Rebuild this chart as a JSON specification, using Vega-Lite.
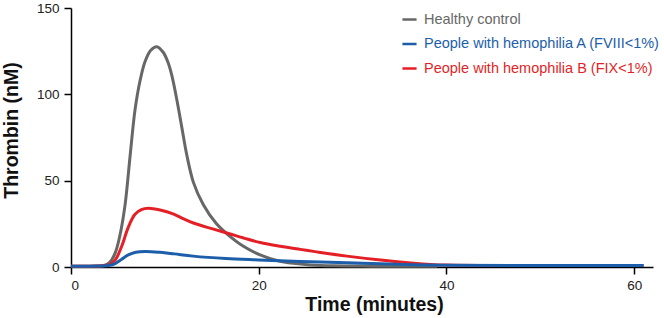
{
  "$schema": "https://vega.github.io/schema/vega-lite/v6.json",
  "autosize": {"type": "none"},
  "width": 582,
  "height": 259,
  "padding": {"left": 71, "top": 8, "right": 11, "bottom": 51},
  "background": "white",
  "config": {
    "view": {"stroke": null},
    "font": "Liberation Sans",
    "axis": {"grid": false, "domainColor": "#000000", "domainWidth": 1.5, "tickColor": "#000000", "tickWidth": 1.5, "labelColor": "#222222", "titleColor": "#111111", "labelFontSize": 13.5, "titleFontSize": 19.5, "titleFontWeight": "bold", "labelFont": "Liberation Sans", "titleFont": "Liberation Sans"},
    "legend": {"labelFont": "Liberation Sans"}
  },
  "data": {
    "values": [
      {"t": 0, "v": 0.5, "s": "Healthy control"},
      {"t": 2, "v": 0.5, "s": "Healthy control"},
      {"t": 3, "v": 0.6, "s": "Healthy control"},
      {"t": 3.6, "v": 1, "s": "Healthy control"},
      {"t": 4.1, "v": 2.5, "s": "Healthy control"},
      {"t": 4.7, "v": 8, "s": "Healthy control"},
      {"t": 5.2, "v": 18, "s": "Healthy control"},
      {"t": 5.76, "v": 36, "s": "Healthy control"},
      {"t": 6.29, "v": 64, "s": "Healthy control"},
      {"t": 6.82, "v": 91, "s": "Healthy control"},
      {"t": 7.36, "v": 108, "s": "Healthy control"},
      {"t": 7.89, "v": 119, "s": "Healthy control"},
      {"t": 8.5, "v": 125.5, "s": "Healthy control"},
      {"t": 9.14, "v": 127.6, "s": "Healthy control"},
      {"t": 9.8, "v": 124.5, "s": "Healthy control"},
      {"t": 10.3, "v": 119, "s": "Healthy control"},
      {"t": 10.74, "v": 111, "s": "Healthy control"},
      {"t": 11.27, "v": 97, "s": "Healthy control"},
      {"t": 11.8, "v": 81, "s": "Healthy control"},
      {"t": 12.33, "v": 65, "s": "Healthy control"},
      {"t": 13.04, "v": 49, "s": "Healthy control"},
      {"t": 14.1, "v": 36, "s": "Healthy control"},
      {"t": 15.5, "v": 25, "s": "Healthy control"},
      {"t": 16.77, "v": 18.5, "s": "Healthy control"},
      {"t": 18.37, "v": 12, "s": "Healthy control"},
      {"t": 20.15, "v": 7, "s": "Healthy control"},
      {"t": 21.93, "v": 3.8, "s": "Healthy control"},
      {"t": 23.7, "v": 2.1, "s": "Healthy control"},
      {"t": 25.5, "v": 1.2, "s": "Healthy control"},
      {"t": 28, "v": 0.7, "s": "Healthy control"},
      {"t": 32, "v": 0.5, "s": "Healthy control"},
      {"t": 39, "v": 0.4, "s": "Healthy control"},
      {"t": 0, "v": 0.5, "s": "People with hemophilia B (FIX<1%)"},
      {"t": 3, "v": 0.6, "s": "People with hemophilia B (FIX<1%)"},
      {"t": 4, "v": 1.2, "s": "People with hemophilia B (FIX<1%)"},
      {"t": 4.7, "v": 4, "s": "People with hemophilia B (FIX<1%)"},
      {"t": 5.4, "v": 12, "s": "People with hemophilia B (FIX<1%)"},
      {"t": 6.1, "v": 23, "s": "People with hemophilia B (FIX<1%)"},
      {"t": 6.82, "v": 30.5, "s": "People with hemophilia B (FIX<1%)"},
      {"t": 7.5, "v": 33.2, "s": "People with hemophilia B (FIX<1%)"},
      {"t": 8.24, "v": 34, "s": "People with hemophilia B (FIX<1%)"},
      {"t": 9.49, "v": 33, "s": "People with hemophilia B (FIX<1%)"},
      {"t": 10.87, "v": 30.8, "s": "People with hemophilia B (FIX<1%)"},
      {"t": 12, "v": 27.9, "s": "People with hemophilia B (FIX<1%)"},
      {"t": 13.04, "v": 25.5, "s": "People with hemophilia B (FIX<1%)"},
      {"t": 15, "v": 22.2, "s": "People with hemophilia B (FIX<1%)"},
      {"t": 16.77, "v": 19.4, "s": "People with hemophilia B (FIX<1%)"},
      {"t": 18.5, "v": 16.6, "s": "People with hemophilia B (FIX<1%)"},
      {"t": 20.15, "v": 14.2, "s": "People with hemophilia B (FIX<1%)"},
      {"t": 22.3, "v": 12, "s": "People with hemophilia B (FIX<1%)"},
      {"t": 24.4, "v": 10.2, "s": "People with hemophilia B (FIX<1%)"},
      {"t": 26, "v": 8.9, "s": "People with hemophilia B (FIX<1%)"},
      {"t": 29.4, "v": 6.3, "s": "People with hemophilia B (FIX<1%)"},
      {"t": 33, "v": 4, "s": "People with hemophilia B (FIX<1%)"},
      {"t": 36.5, "v": 2.2, "s": "People with hemophilia B (FIX<1%)"},
      {"t": 38.3, "v": 1.5, "s": "People with hemophilia B (FIX<1%)"},
      {"t": 40, "v": 1.1, "s": "People with hemophilia B (FIX<1%)"},
      {"t": 45, "v": 0.9, "s": "People with hemophilia B (FIX<1%)"},
      {"t": 61, "v": 0.8, "s": "People with hemophilia B (FIX<1%)"},
      {"t": 0, "v": 0.5, "s": "People with hemophilia A (FVIII<1%)"},
      {"t": 3, "v": 0.6, "s": "People with hemophilia A (FVIII<1%)"},
      {"t": 4, "v": 0.9, "s": "People with hemophilia A (FVIII<1%)"},
      {"t": 4.7, "v": 2, "s": "People with hemophilia A (FVIII<1%)"},
      {"t": 5.4, "v": 4.5, "s": "People with hemophilia A (FVIII<1%)"},
      {"t": 6.1, "v": 7, "s": "People with hemophilia A (FVIII<1%)"},
      {"t": 6.9, "v": 8.5, "s": "People with hemophilia A (FVIII<1%)"},
      {"t": 7.89, "v": 9, "s": "People with hemophilia A (FVIII<1%)"},
      {"t": 9.5, "v": 8.5, "s": "People with hemophilia A (FVIII<1%)"},
      {"t": 11, "v": 7.6, "s": "People with hemophilia A (FVIII<1%)"},
      {"t": 13, "v": 6.3, "s": "People with hemophilia A (FVIII<1%)"},
      {"t": 16.5, "v": 4.9, "s": "People with hemophilia A (FVIII<1%)"},
      {"t": 20, "v": 4.1, "s": "People with hemophilia A (FVIII<1%)"},
      {"t": 24.4, "v": 3.2, "s": "People with hemophilia A (FVIII<1%)"},
      {"t": 29.4, "v": 2.5, "s": "People with hemophilia A (FVIII<1%)"},
      {"t": 33, "v": 1.9, "s": "People with hemophilia A (FVIII<1%)"},
      {"t": 36.5, "v": 1.3, "s": "People with hemophilia A (FVIII<1%)"},
      {"t": 40, "v": 1.0, "s": "People with hemophilia A (FVIII<1%)"},
      {"t": 50, "v": 0.9, "s": "People with hemophilia A (FVIII<1%)"},
      {"t": 61, "v": 0.8, "s": "People with hemophilia A (FVIII<1%)"}
    ]
  },
  "mark": {"type": "line", "interpolate": "catmull-rom", "strokeWidth": 3, "clip": false},
  "encoding": {
    "x": {"field": "t", "type": "quantitative", "scale": {"domain": [0, 62], "nice": false, "zero": true},
      "axis": {"values": [0, 20, 40, 60], "title": "Time (minutes)", "tickSize": 7, "labelPadding": 4, "titlePadding": 4, "titleX": 303}},
    "y": {"field": "v", "type": "quantitative", "scale": {"domain": [0, 150], "nice": false},
      "axis": {"values": [0, 50, 100, 150], "title": "Thrombin (nM)", "tickSize": 7, "labelPadding": 5, "titlePadding": 15, "titleY": 122}},
    "color": {"field": "s", "type": "nominal",
      "scale": {"domain": ["Healthy control", "People with hemophilia A (FVIII<1%)", "People with hemophilia B (FIX<1%)"], "range": ["#676767", "#1c5ea9", "#e41f26"]},
      "legend": {"title": null, "orient": "none", "legendX": 330, "legendY": 3, "symbolType": "stroke", "symbolSize": 200, "symbolStrokeWidth": 2.5, "labelFontSize": 14.5, "labelLimit": 0, "rowPadding": 9.5, "labelOffset": 6,
        "encode": {"labels": {"update": {"fill": {"signal": "scale('color', datum.value)"}}}}}
    },
    "order": {"field": "t", "type": "quantitative"}
  }
}
